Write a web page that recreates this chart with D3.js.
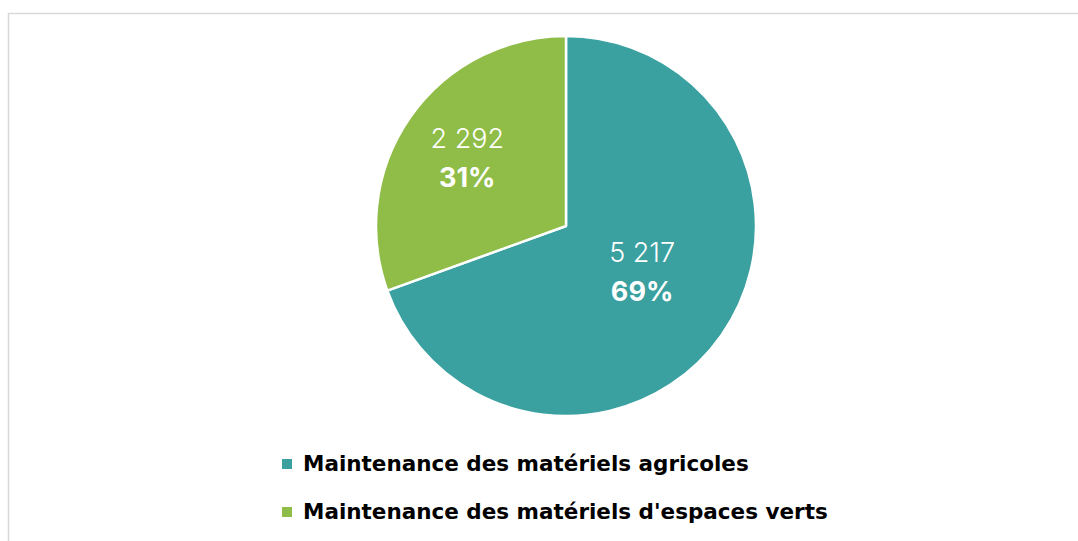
<!DOCTYPE html>
<html>
<head>
<meta charset="utf-8">
<script src="https://cdn.jsdelivr.net/npm/d3@7/dist/d3.min.js"></script>
<style>
  html, body { margin: 0; padding: 0; background: #fff; }
  svg { display: block; }
</style>
</head>
<body>
<svg id="chart" width="1078" height="541"></svg>
<script>
// Répartition des effectifs par activité
const categories = ["Maintenance des matériels agricoles", "Maintenance des matériels d'espaces verts"];
const values = [5217, 2292];
const colors = ["#3AA0A0", "#8FBD48"];

const svg = d3.select("#chart");
const W = 1078, H = 541;

// cadre du graphique
svg.append("rect")
  .attr("x", 8.5).attr("y", 13.5)
  .attr("width", W + 10).attr("height", H)
  .attr("fill", "#fff")
  .attr("stroke", "#d9d9d9").attr("stroke-width", 1.5);

const cx = 566, cy = 226, r = 190;
const total = d3.sum(values);
const fmt = v => d3.format(",")(v).replace(/,/g, " ");

const pie = d3.pie().sort(null).value(d => d.value);
const data = pie(categories.map((c, i) => ({ name: c, value: values[i], color: colors[i] })));

const g = svg.append("g").attr("transform", `translate(${cx},${cy})`);
const arc = d3.arc().innerRadius(0).outerRadius(r);

g.selectAll("path.slice")
  .data(data)
  .join("path")
  .attr("class", "slice")
  .attr("d", arc)
  .attr("fill", d => d.data.color)
  .attr("stroke", "#fff")
  .attr("stroke-width", 2.5)
  .attr("stroke-linejoin", "round");

// étiquettes : valeur + pourcentage
const labelRadius = [0.47 * r, 0.635 * r];
const labelNudge = [[3, -9], [0, -3]];
data.forEach((d, i) => {
  const la = d3.arc().innerRadius(labelRadius[i]).outerRadius(labelRadius[i]);
  const [x0, y0] = la.centroid(d);
  const x = x0 + labelNudge[i][0], y = y0 + labelNudge[i][1];
  const t = g.append("text")
    .attr("text-anchor", "middle")
    .attr("fill", "#fff")
    .style("font-family", "Inter, sans-serif");
  t.append("tspan").attr("x", x).attr("y", y - 6)
    .style("font-size", "27px").style("font-weight", 300)
    .text(fmt(d.data.value));
  t.append("tspan").attr("x", x).attr("y", y + 33)
    .style("font-size", "27px").style("font-weight", 700)
    .text(Math.round(d.data.value / total * 100) + "%");
});

// légende
const legend = svg.append("g").attr("transform", "translate(282,0)");
const rows = legend.selectAll("g.item")
  .data(data)
  .join("g")
  .attr("class", "item")
  .attr("transform", (d, i) => `translate(0,${464 + i * 48})`);
rows.append("rect")
  .attr("x", 0).attr("y", -5)
  .attr("width", 10).attr("height", 10)
  .attr("fill", d => d.data.color);
rows.append("text")
  .attr("x", 21).attr("y", 7)
  .attr("fill", "#000")
  .style("font-family", "'DejaVu Sans', sans-serif")
  .style("font-size", "21.5px").style("font-weight", 700)
  .text(d => d.data.name);
</script>
</body>
</html>
